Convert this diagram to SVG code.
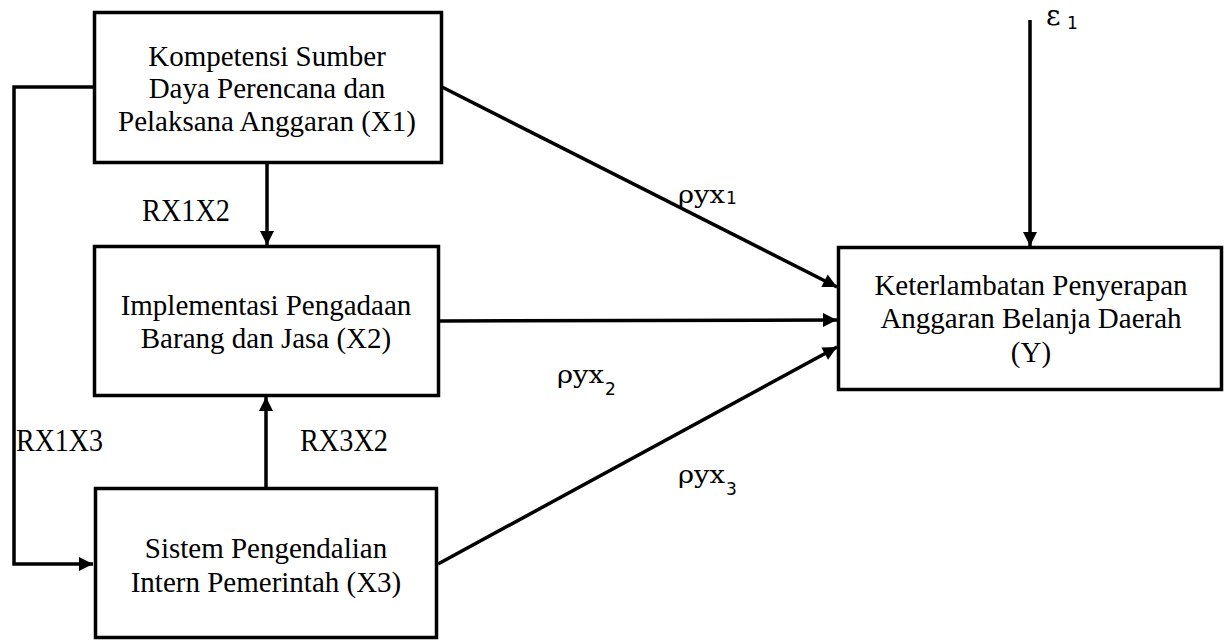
<svg xmlns="http://www.w3.org/2000/svg" width="1224" height="641" viewBox="0 0 1224 641">
<defs>
<marker id="ah" markerUnits="userSpaceOnUse" markerWidth="16" markerHeight="16" viewBox="0 0 16 16" refX="15" refY="8" orient="auto">
<path d="M1,1 L15,8 L1,15 Z" fill="#000"/>
</marker>
<style>
.box{fill:#fff;stroke:#000;stroke-width:3.5}
.t{font-family:"Liberation Serif","Times New Roman",serif;font-size:29px;fill:#000;text-anchor:middle}
.lbl{font-family:"Liberation Serif","Times New Roman",serif;font-size:31px;fill:#000}
.m{font-family:"DejaVu Serif","Liberation Serif",serif;font-size:24px;fill:#000}
.eps{font-family:"DejaVu Serif","Liberation Serif",serif;font-size:28px;fill:#000}
.sub{font-family:"DejaVu Sans","Liberation Sans",sans-serif;font-size:17px;fill:#000}
.c{fill:none;stroke:#000;stroke-width:3.5}
</style>
</defs>
<rect width="1224" height="641" fill="#fff"/>
<g id="connectors">
<path class="c" d="M94,87 H14 V564 H93" marker-end="url(#ah)"/>
<line class="c" x1="267" y1="163" x2="267" y2="245" marker-end="url(#ah)"/>
<line class="c" x1="266" y1="488" x2="266" y2="397" marker-end="url(#ah)"/>
<line class="c" x1="442" y1="87" x2="837" y2="287" marker-end="url(#ah)"/>
<line class="c" x1="440" y1="321" x2="837" y2="320" marker-end="url(#ah)"/>
<line class="c" x1="438" y1="564" x2="837" y2="347" marker-end="url(#ah)"/>
<line class="c" x1="1030" y1="20" x2="1030" y2="246" marker-end="url(#ah)"/>
</g>
<g id="x1">
<rect class="box" x="94.5" y="12.5" width="347" height="150"/>
<text class="t" x="267" y="66">Kompetensi Sumber</text>
<text class="t" x="267" y="98">Daya Perencana dan</text>
<text class="t" x="267" y="131">Pelaksana Anggaran (X1)</text>
</g>
<g id="x2">
<rect class="box" x="94.5" y="246.5" width="344" height="149"/>
<text class="t" x="266" y="315">Implementasi Pengadaan</text>
<text class="t" x="266" y="348">Barang dan Jasa (X2)</text>
</g>
<g id="x3">
<rect class="box" x="95.5" y="488.5" width="341" height="149"/>
<text class="t" x="266" y="558">Sistem Pengendalian</text>
<text class="t" x="266" y="592">Intern Pemerintah (X3)</text>
</g>
<g id="y">
<rect class="box" x="838.5" y="247.5" width="383" height="142"/>
<text class="t" x="1031" y="295">Keterlambatan Penyerapan</text>
<text class="t" x="1031" y="328">Anggaran Belanja Daerah</text>
<text class="t" x="1031" y="362">(Y)</text>
</g>
<g id="labels">
<text class="lbl" x="142" y="221" textLength="88" lengthAdjust="spacingAndGlyphs">RX1X2</text>
<text class="lbl" x="16" y="451" textLength="87" lengthAdjust="spacingAndGlyphs">RX1X3</text>
<text class="lbl" x="300" y="451" textLength="88" lengthAdjust="spacingAndGlyphs">RX3X2</text>
<text class="m" x="678" y="203" textLength="47" lengthAdjust="spacingAndGlyphs">ρyx</text>
<text class="sub" x="726" y="204">1</text>
<text class="m" x="557" y="383" textLength="47" lengthAdjust="spacingAndGlyphs">ρyx</text>
<text class="sub" x="605" y="395">2</text>
<text class="m" x="678" y="483" textLength="47" lengthAdjust="spacingAndGlyphs">ρyx</text>
<text class="sub" x="726" y="495">3</text>
<text class="eps" x="1046" y="25">ε</text>
<text class="sub" x="1067" y="29">1</text>
</g>
</svg>
